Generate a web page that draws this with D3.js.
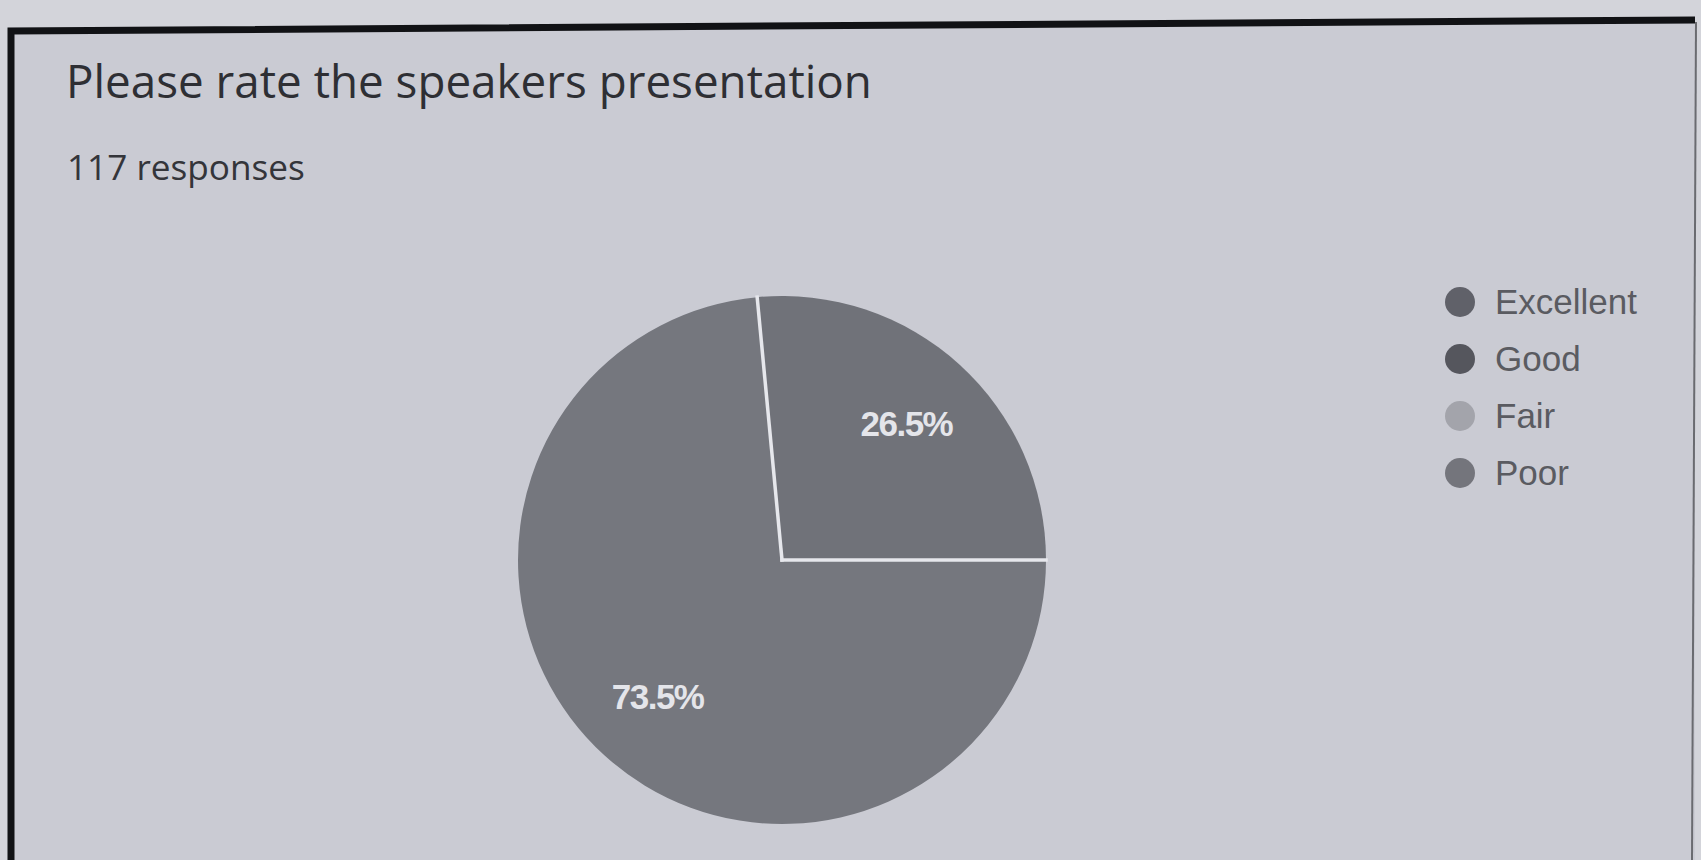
<!DOCTYPE html>
<html>
<head>
<meta charset="utf-8">
<script src="https://cdn.jsdelivr.net/npm/d3@7/dist/d3.min.js"></script>
<style>
  html, body { margin: 0; padding: 0; background: #cfd0d7; }
  svg { display: block; }
</style>
</head>
<body>
<svg id="chart" width="1701" height="860"></svg>
<script>
// ---- data ----
const categories = ["Excellent", "Good", "Fair", "Poor"];
const percents = [73.5, 26.5, 0, 0];
const legendColors = ["#606169", "#55565d", "#a3a4ab", "#74757c"];
const sliceColors = ["#75777e", "#707279", "#a3a4ab", "#74757c"];
const titleText = "Please rate the speakers presentation";
const subtitleText = "117 responses";

const W = 1701, H = 860;
const svg = d3.select("#chart");

// background / frame
svg.append("rect").attr("width", W).attr("height", H).attr("fill", "#d3d4da");
svg.append("path")
  .attr("d", "M11,31 L1695,20 L1695,860 L11,860 Z")
  .attr("fill", "#cacbd3");
svg.append("path")
  .attr("d", "M11,860 L11,31 L1695,20")
  .attr("fill", "none").attr("stroke", "#111215").attr("stroke-width", 7);
svg.append("line")
  .attr("x1", 1696).attr("y1", 22).attr("x2", 1692).attr("y2", 860)
  .attr("stroke", "#6a6b70").attr("stroke-width", 2);

// title
const title = svg.append("text")
  .attr("x", 66).attr("y", 98)
  .attr("font-family", "'Open Sans', sans-serif")
  .attr("font-size", 40)
  .attr("fill", "#2e2f34")
  .text(titleText);
const tw = title.node().getComputedTextLength();
title.attr("font-size", 40 * 806 / tw);

const sub = svg.append("text")
  .attr("x", 67).attr("y", 180)
  .attr("font-family", "'Open Sans', sans-serif")
  .attr("font-size", 28)
  .attr("fill", "#34353a")
  .text(subtitleText);
const sw = sub.node().getComputedTextLength();
sub.attr("font-size", 28 * 238 / sw);

// pie
const cx = 782, cy = 560, R = 264;
const pie = d3.pie().sort(null).value(d => d.v)
  .startAngle(Math.PI / 2).endAngle(Math.PI / 2 + 2 * Math.PI);
const data = categories.map((c, i) => ({ c, v: percents[i], i }));
const arcs = pie(data).filter(d => d.data.v > 0);
const arc = d3.arc().innerRadius(0).outerRadius(R);
const labelArc = d3.arc().innerRadius(R * 0.7).outerRadius(R * 0.7);

const g = svg.append("g").attr("transform", `translate(${cx},${cy})`);
g.selectAll("path.slice")
  .data(arcs)
  .join("path")
  .attr("class", "slice")
  .attr("d", arc)
  .attr("fill", d => sliceColors[d.data.i]);

// white separators along slice boundaries (radial edges only)
g.selectAll("line.sep")
  .data(arcs)
  .join("line")
  .attr("class", "sep")
  .attr("x1", 0).attr("y1", 0)
  .attr("x2", d => d3.pointRadial(d.startAngle, R)[0])
  .attr("y2", d => d3.pointRadial(d.startAngle, R)[1])
  .attr("stroke", "#e6e7ec")
  .attr("stroke-width", 3.5)
  .attr("stroke-linecap", "square");

g.selectAll("text.lbl")
  .data(arcs)
  .join("text")
  .attr("class", "lbl")
  .attr("transform", d => `translate(${labelArc.centroid(d)})`)
  .attr("text-anchor", "middle")
  .attr("dy", "0.36em")
  .attr("font-family", "'Liberation Sans', Arial, sans-serif")
  .attr("font-weight", "bold")
  .attr("font-size", 35)
  .attr("letter-spacing", -1.5)
  .attr("fill", "#e4e5ea")
  .text(d => d.data.v.toFixed(1) + "%");

// legend
const leg = svg.append("g");
const items = leg.selectAll("g")
  .data(categories)
  .join("g")
  .attr("transform", (d, i) => `translate(1460, ${302 + i * 57})`);
items.append("circle").attr("r", 15).attr("fill", (d, i) => legendColors[i]);
items.append("text")
  .attr("x", 35).attr("dy", "0.35em")
  .attr("font-family", "'Liberation Sans', Arial, sans-serif")
  .attr("font-size", 35)
  .attr("fill", "#5a5b61")
  .text(d => d);
</script>
</body>
</html>
